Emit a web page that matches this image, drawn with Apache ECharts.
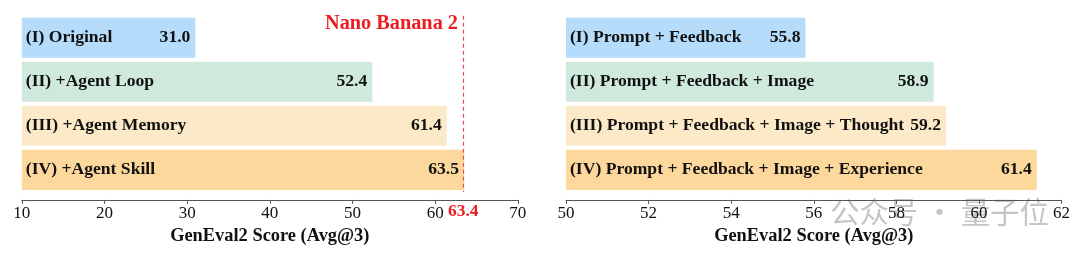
<!DOCTYPE html>
<html><head><meta charset="utf-8">
<script src="https://cdn.jsdelivr.net/npm/echarts@6/dist/echarts.min.js"></script>
<style>html,body{margin:0;padding:0;background:#fff}#c{width:1080px;height:256px}</style>
</head><body><div id="c"></div>
<script>
const leftCategories = ['(I) Original', '(II) +Agent Loop', '(III) +Agent Memory', '(IV) +Agent Skill'];
const leftValues = [31.0, 52.4, 61.4, 63.5];
const rightCategories = ['(I) Prompt + Feedback', '(II) Prompt + Feedback + Image', '(III) Prompt + Feedback + Image + Thought', '(IV) Prompt + Feedback + Image + Experience'];
const rightValues = [55.8, 58.9, 59.2, 61.4];
const barColors = ['#b5dcfa', '#cfe9dd', '#fbe9c8', '#fdd89d'];
const referenceValue = 63.4;
const referenceName = 'Nano Banana 2';
const axisTitle = 'GenEval2 Score (Avg@3)';

const serif = '"Liberation Serif", "Times New Roman", serif';
const chart = echarts.init(document.getElementById('c'), null, {renderer: 'canvas'});

function xAxisCfg(gridIndex, min, max, interval) {
  return {
    type: 'value', gridIndex, min, max, interval, offset: 8,
    name: axisTitle, nameLocation: 'middle', nameGap: 25,
    nameTextStyle: {fontFamily: serif, fontWeight: 'bold', fontSize: 18.4, color: '#111'},
    axisLine: {show: true, lineStyle: {color: '#555', width: 1}},
    axisTick: {show: true, length: 4, lineStyle: {color: '#555'}},
    axisLabel: {fontFamily: serif, fontSize: 17, color: '#111', margin: 5},
    splitLine: {show: false}
  };
}
function yAxisCfg(gridIndex, cats) {
  return {
    type: 'category', gridIndex, data: cats, inverse: true,
    axisLine: {show: false}, axisTick: {show: false},
    axisLabel: {inside: true, margin: 4, fontFamily: serif, fontWeight: 'bold', fontSize: 17.6, color: '#111'},
    z: 5
  };
}
function barSeries(idx, values, extra) {
  return Object.assign({
    type: 'bar', xAxisIndex: idx, yAxisIndex: idx, barCategoryGap: '9%',
    data: values.map((v, i) => ({value: v, itemStyle: {color: barColors[i]}})),
    label: {show: true, position: 'insideRight', distance: 5, formatter: p => p.value.toFixed(1),
      fontFamily: serif, fontWeight: 'bold', fontSize: 17.6, color: '#111'},
    silent: true
  }, extra || {});
}

chart.setOption({
  animation: false,
  backgroundColor: '#fff',
  grid: [
    {left: 21.8, width: 496, top: 15.7, height: 176.2},
    {left: 566, width: 495.6, top: 15.7, height: 176.2}
  ],
  xAxis: [xAxisCfg(0, 10, 70, 10), xAxisCfg(1, 50, 62, 2)],
  yAxis: [yAxisCfg(0, leftCategories), yAxisCfg(1, rightCategories)],
  series: [
    barSeries(0, leftValues, {
      markLine: {
        silent: true, symbol: 'none', z: 10,
        lineStyle: {color: '#ee4a52', type: [4, 3], width: 1.2},
        data: [{xAxis: referenceValue,
          label: {show: true, position: 'end', distance: 11, formatter: String(referenceValue),
            fontFamily: serif, fontWeight: 'bold', fontSize: 17.4, color: '#ec1c24', opacity: 1}}]
      }
    }),
    barSeries(1, rightValues)
  ],
  graphic: [
    {type: 'text', right: 1080 - 458, top: 14, style: {text: referenceName, fontFamily: serif, fontWeight: 'bold', fontSize: 20.3, fill: '#ec1c24'}},
    {type: 'text', left: 830, top: 197, style: {text: '公众号 · 量子位', fontFamily: '"Noto Sans CJK SC"', fontSize: 29.4, fill: 'rgba(150,150,150,0.55)'}}
  ]
});
</script></body></html>
